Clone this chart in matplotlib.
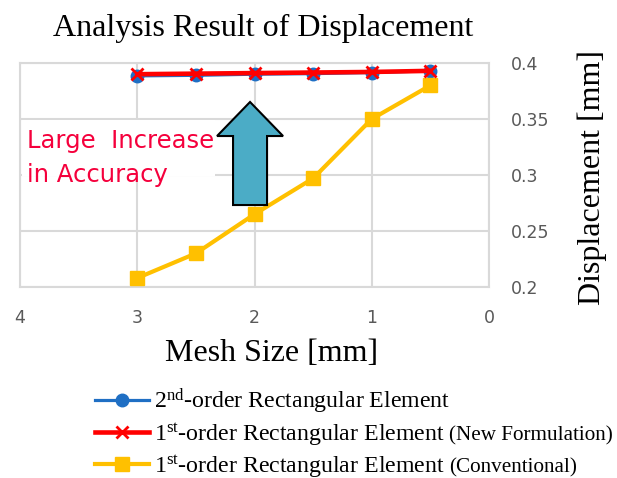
import matplotlib
matplotlib.use("Agg")
import matplotlib.pyplot as plt
from matplotlib.lines import Line2D
from matplotlib.patches import Rectangle, FancyArrow

plt.rcParams["mathtext.fontset"] = "custom"
plt.rcParams["mathtext.rm"] = "Liberation Serif"
plt.rcParams["mathtext.it"] = "Liberation Serif:italic"

# Mesh size [mm] and computed displacement [mm]
mesh_size = [3, 2.5, 2, 1.5, 1, 0.5]
disp_2nd_order = [0.3885, 0.389, 0.390, 0.3905, 0.3915, 0.393]
disp_1st_new = [0.390, 0.3905, 0.391, 0.3915, 0.392, 0.393]
disp_1st_conv = [0.208, 0.230, 0.265, 0.297, 0.350, 0.380]

x_ticks = [4, 3, 2, 1, 0]
y_ticks = [0.2, 0.25, 0.3, 0.35, 0.4]
y_tick_labels = ["0.2", "0.25", "0.3", "0.35", "0.4"]

series_labels = [
    r"2$^{\mathrm{nd}}$-order Rectangular Element",
    r"1$^{\mathrm{st}}$-order Rectangular Element",
    r"1$^{\mathrm{st}}$-order Rectangular Element",
]
series_notes = ["", "(New Formulation)", "(Conventional)"]

BLUE = "#1F6FC4"
RED = "#FF0000"
GOLD = "#FFC000"
GRID = "#D9D9D9"
TICK = "#595959"
SERIF = "Liberation Serif"

W, H = 617, 478
fig = plt.figure(figsize=(W / 100, H / 100), dpi=100)
ax = fig.add_axes([20 / W, 1 - 287 / H, (489 - 20) / W, (287 - 63) / H])

ax.set_xlim(4, 0)
ax.set_ylim(0.2, 0.4)
ax.set_xticks(x_ticks)
ax.set_xticklabels([str(t) for t in x_ticks])
ax.set_yticks(y_ticks)
ax.set_yticklabels(y_tick_labels)
ax.yaxis.tick_right()
ax.tick_params(axis="both", length=0, labelsize=12.5, labelcolor=TICK)
ax.tick_params(axis="x", pad=16)
ax.tick_params(axis="y", pad=16)
ax.set_axisbelow(True)
ax.grid(True, color=GRID, linewidth=1.5)
for side, sp in ax.spines.items():
    sp.set_color(GRID)
    sp.set_linewidth(1.5)

# White label box behind the annotation text
ax.add_patch(Rectangle((2.337, 0.2995), 3.985 - 2.337, 0.0497,
                       facecolor="white", edgecolor="none", zorder=1))

ax.plot(mesh_size, disp_2nd_order, color=BLUE, lw=2.3, marker="o", ms=9,
        zorder=3)
ax.plot(mesh_size, disp_1st_new, color=RED, lw=3.3, marker="x", ms=9,
        mew=2, zorder=4)
ax.plot(mesh_size, disp_1st_conv, color=GOLD, lw=3.0, marker="s", ms=10,
        zorder=3.5)

ax.text(3.94, 0.3241, "Large  Increase", color="#F5003C", fontsize=17.5,
        va="baseline", ha="left", zorder=5)
ax.text(3.94, 0.2938, "in Accuracy", color="#F5003C", fontsize=17.5,
        va="baseline", ha="left", zorder=5)

ax.add_patch(FancyArrow(2.038, 0.2732, 0, 0.3652 - 0.2732, width=0.29,
                        head_width=0.563, head_length=0.0304,
                        length_includes_head=True, facecolor="#4BACC6",
                        edgecolor="black", linewidth=1.5, zorder=6))

fig.text(263 / W, 1 - 36 / H, "Analysis Result of Displacement", family=SERIF,
         fontsize=23, ha="center", va="baseline")
fig.text(272 / W, 1 - 361 / H, "Mesh Size [mm]", family=SERIF, fontsize=23,
         ha="center", va="baseline")
fig.text(592 / W, 1 - 177.5 / H, "Displacement [mm]", family=SERIF, fontsize=23,
         ha="center", va="center", rotation=90)

handles = [
    Line2D([], [], color=BLUE, lw=2.3, marker="o", ms=9),
    Line2D([], [], color=RED, lw=3.3, marker="x", ms=9, mew=2),
    Line2D([], [], color=GOLD, lw=3.0, marker="s", ms=10),
]
leg = fig.legend(handles, series_labels, loc="center left",
                 bbox_to_anchor=(95 / W, 1 - 433 / H), frameon=False,
                 prop={"family": SERIF, "size": 17.2}, handlelength=2.25,
                 handletextpad=0.2, labelspacing=0.23, borderpad=0,
                 borderaxespad=0)

# Smaller parenthetical notes placed right after the legend labels
fig.canvas.draw()
renderer = fig.canvas.get_renderer()
for txt, note in zip(leg.get_texts(), series_notes):
    if note:
        bb = txt.get_window_extent(renderer)
        fig.text((bb.x1 + 5) / W, (bb.y0 + 1.8) / H, note, family=SERIF,
                 fontsize=15.2, ha="left", va="bottom")

fig.savefig("out.png", dpi=100)
